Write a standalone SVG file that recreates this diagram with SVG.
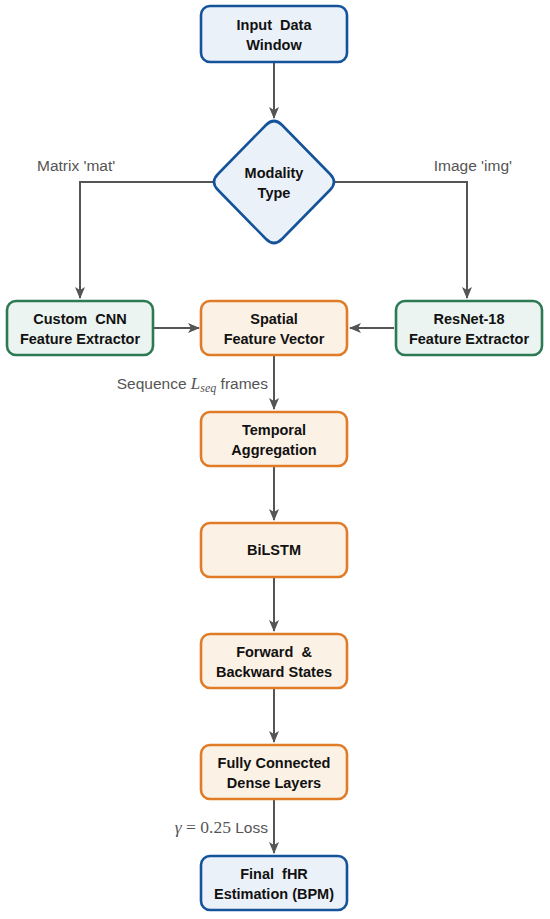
<svg xmlns="http://www.w3.org/2000/svg" width="550" height="919" viewBox="0 0 550 919">
<defs>
<style>
.blue{fill:#ebf1f9;stroke:#14539a;stroke-width:2.6}
.green{fill:#ebf4f0;stroke:#2b7a53;stroke-width:2.6}
.orange{fill:#fcf1e5;stroke:#e07b28;stroke-width:2.6}
.t{font-family:"Liberation Sans",Arial,sans-serif;font-weight:bold;font-size:14.5px;fill:#111;text-anchor:middle}
.lbl{font-family:"Liberation Sans",Arial,sans-serif;font-size:15.5px;fill:#555}
.c{fill:none;stroke:#555;stroke-width:2}
</style>
<marker id="ah" markerWidth="12" markerHeight="10" refX="11" refY="5" orient="auto" markerUnits="userSpaceOnUse">
<path d="M0,0 L12,5 L0,10 L3,5 Z" fill="#555"/>
</marker>
</defs>
<rect width="550" height="919" fill="#fff"/>
<g id="connectors">
<path class="c" d="M274,63 V118" marker-end="url(#ah)"/>
<path class="c" d="M213,182 H80 V298" marker-end="url(#ah)"/>
<path class="c" d="M335,182 H467 V298" marker-end="url(#ah)"/>
<path class="c" d="M154,328 H199" marker-end="url(#ah)"/>
<path class="c" d="M394,328 H350" marker-end="url(#ah)"/>
<path class="c" d="M274,356 V409" marker-end="url(#ah)"/>
<path class="c" d="M274,467 V520" marker-end="url(#ah)"/>
<path class="c" d="M274,578 V631" marker-end="url(#ah)"/>
<path class="c" d="M274,689 V742" marker-end="url(#ah)"/>
<path class="c" d="M274,800 V853" marker-end="url(#ah)"/>
<text class="lbl" x="37" y="171">Matrix 'mat'</text>
<text class="lbl" x="512" y="171" text-anchor="end">Image 'img'</text>
<text class="lbl" x="268" y="389" text-anchor="end">Sequence <tspan font-family="'Liberation Serif',serif" font-style="italic" font-size="17">L</tspan><tspan font-family="'Liberation Serif',serif" font-style="italic" font-size="12" dy="3">seq</tspan><tspan dy="-3"> frames</tspan></text>
<text class="lbl" x="268" y="833" text-anchor="end"><tspan font-family="'Liberation Serif',serif" font-size="17.5"><tspan font-style="italic">γ</tspan> = 0.25</tspan> Loss</text>
</g>
<g id="input"><rect class="blue" x="201" y="6" width="146" height="56" rx="9"/><text class="t" x="274" y="30" xml:space="preserve">Input  Data</text><text class="t" x="274" y="50">Window</text></g>
<g id="modality"><path class="blue" d="M266,125 Q274,117 282,125 L330,174 Q338,182 330,190 L282,239 Q274,247 266,239 L218,190 Q210,182 218,174 Z"/><text class="t" x="274" y="178">Modality</text><text class="t" x="274" y="198">Type</text></g>
<g id="cnn"><rect class="green" x="7" y="301" width="146" height="54" rx="9"/><text class="t" x="80" y="324" xml:space="preserve">Custom  CNN</text><text class="t" x="80" y="344">Feature Extractor</text></g>
<g id="spatial"><rect class="orange" x="201" y="301" width="146" height="54" rx="9"/><text class="t" x="274" y="324">Spatial</text><text class="t" x="274" y="344">Feature Vector</text></g>
<g id="resnet"><rect class="green" x="396" y="301" width="146" height="54" rx="9"/><text class="t" x="469" y="324">ResNet-18</text><text class="t" x="469" y="344">Feature Extractor</text></g>
<g id="temporal"><rect class="orange" x="201" y="412" width="146" height="54" rx="9"/><text class="t" x="274" y="435">Temporal</text><text class="t" x="274" y="455">Aggregation</text></g>
<g id="bilstm"><rect class="orange" x="201" y="523" width="146" height="54" rx="9"/><text class="t" x="274" y="555">BiLSTM</text></g>
<g id="states"><rect class="orange" x="201" y="634" width="146" height="54" rx="9"/><text class="t" x="274" y="657" xml:space="preserve">Forward  &amp;</text><text class="t" x="274" y="677">Backward States</text></g>
<g id="dense"><rect class="orange" x="201" y="745" width="146" height="54" rx="9"/><text class="t" x="274" y="768">Fully Connected</text><text class="t" x="274" y="788">Dense Layers</text></g>
<g id="final"><rect class="blue" x="201" y="856" width="146" height="54" rx="9"/><text class="t" x="274" y="879" xml:space="preserve">Final  fHR</text><text class="t" x="274" y="899">Estimation (BPM)</text></g>
</svg>
